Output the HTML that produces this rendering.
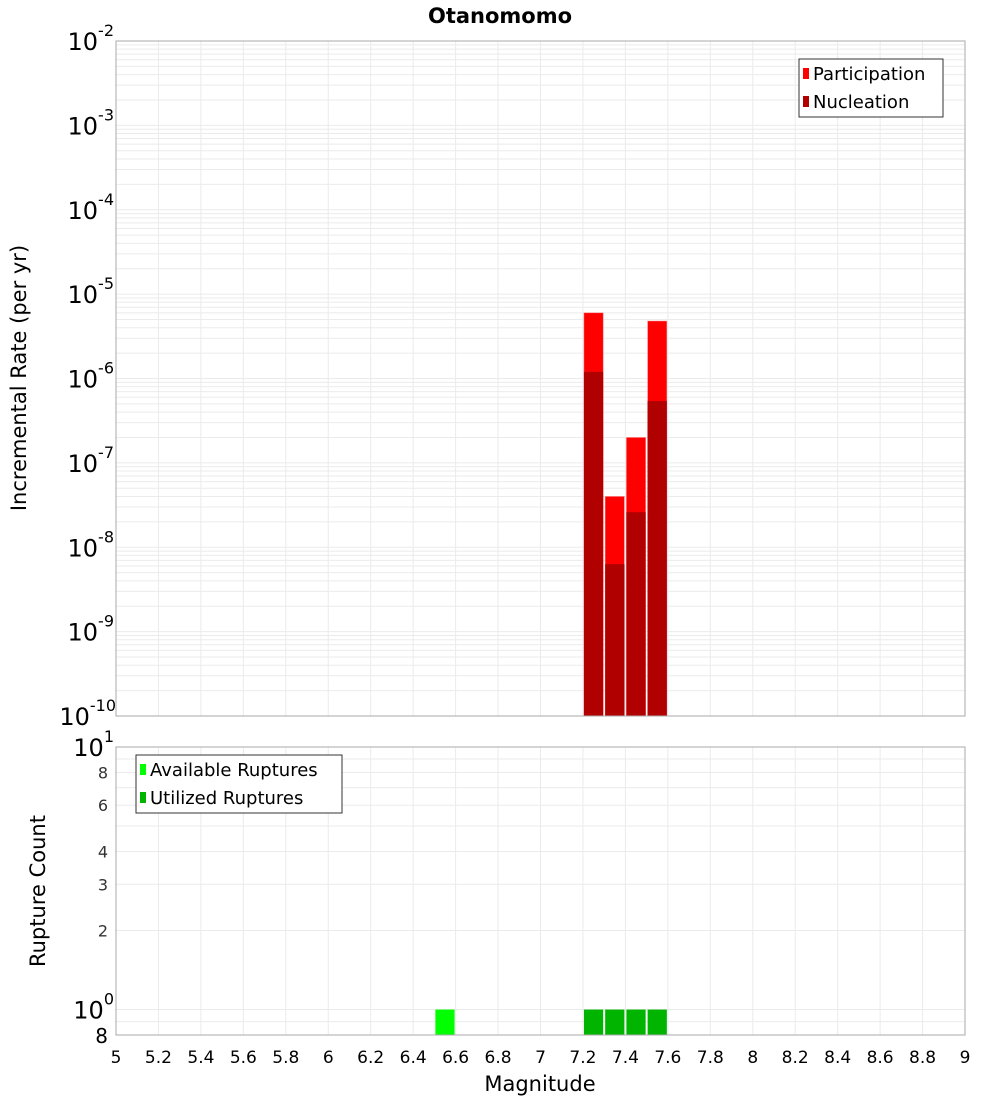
<!DOCTYPE html>
<html><head><meta charset="utf-8"><style>
body{margin:0;background:#fff;}
svg{font-family:"DejaVu Sans","Liberation Sans",sans-serif;}
</style></head><body>
<svg id="c" width="1000" height="1100" xmlns="http://www.w3.org/2000/svg"></svg>
<script>
const magBins = [7.25, 7.35, 7.45, 7.55];
const participationRates = [6.0e-6, 4.0e-8, 2.0e-7, 4.8e-6];
const nucleationRates = [1.2e-6, 6.3e-9, 2.6e-8, 5.4e-7];
const availableMags = [6.55];
const availableCounts = [1];
const utilizedMags = [7.25, 7.35, 7.45, 7.55];
const utilizedCounts = [1, 1, 1, 1];
const xTicks = [5,5.2,5.4,5.6,5.8,6,6.2,6.4,6.6,6.8,7,7.2,7.4,7.6,7.8,8,8.2,8.4,8.6,8.8,9];
const topExps = [-2,-3,-4,-5,-6,-7,-8,-9,-10];
const bottomTicks = [8,6,4,3,2];

const NS="http://www.w3.org/2000/svg";
const svg=document.getElementById('c');
function mk(tag,attrs,parent){const e=document.createElementNS(NS,tag);for(const k in attrs)e.setAttribute(k,attrs[k]);(parent||svg).appendChild(e);return e;}
const X0=116,X1=965;
const x=m=>X0+(m-5)/4*(X1-X0);
const T0=41,T1=716;
const yTop=v=>T0+(-2-Math.log10(v))/8*(T1-T0);
const B0=747,B1=1035;
const yBot=v=>B0+(1-Math.log10(v))/(1-Math.log10(0.8))*(B1-B0);
const bw=x(5.1)-x(5);

const g=mk('g',{});


for(let d=-10;d<-2;d++){for(let k=1;k<10;k++){const yy=yTop(k*Math.pow(10,d));mk('line',{x1:X0,x2:X1,y1:yy,y2:yy,stroke:'#ebebeb','stroke-width':1},g);}}
for(let k=1;k<=10;k++){const yy=yBot(k);mk('line',{x1:X0,x2:X1,y1:yy,y2:yy,stroke:'#ebebeb','stroke-width':1},g);}
mk('line',{x1:X0,x2:X1,y1:yBot(0.9),y2:yBot(0.9),stroke:'#ebebeb'},g);
xTicks.forEach(t=>{const xx=x(t);mk('line',{x1:xx,x2:xx,y1:T0,y2:T1,stroke:'#ebebeb'},g);mk('line',{x1:xx,x2:xx,y1:B0,y2:B1,stroke:'#ebebeb'},g);});

magBins.forEach((m,i)=>{
 const r=mk('rect',{x:x(m-0.05)+1,y:yTop(participationRates[i]),width:bw-2,height:T1-yTop(participationRates[i]),fill:'#ff0000',stroke:'#ff8080','stroke-width':0.5});
 
 
 const n=mk('rect',{x:x(m-0.05)+1,y:yTop(nucleationRates[i]),width:bw-2,height:T1-yTop(nucleationRates[i]),fill:'#b00000'});
 
 
});
availableMags.forEach((m,i)=>{
 const r=mk('rect',{x:x(m-0.05)+1,y:yBot(availableCounts[i]),width:bw-2,height:B1-yBot(availableCounts[i]),fill:'#00ff00'});
 
 
});
utilizedMags.forEach((m,i)=>{
 const r=mk('rect',{x:x(m-0.05)+1,y:yBot(utilizedCounts[i]),width:bw-2,height:B1-yBot(utilizedCounts[i]),fill:'#00b400'});
 
 
});

const f1=mk('rect',{x:X0,y:T0,width:X1-X0,height:T1-T0,fill:'none',stroke:'#aaa'});


const f2=mk('rect',{x:X0,y:B0,width:X1-X0,height:B1-B0,fill:'none',stroke:'#aaa'});



topExps.forEach(e=>{
 const t=mk('text',{x:e===-10?116:114,y:yTop(Math.pow(10,e))+9,'font-size':24,'text-anchor':'end',fill:'#000'});
 
 
 t.innerHTML='10<tspan font-size="16" dy="-14">'+e+'</tspan>';
});
[[10,'1'],[1,'0']].forEach(([v,e])=>{
 const t=mk('text',{x:114,y:yBot(v)+9,'font-size':24,'text-anchor':'end',fill:'#000'});
 
 
 t.innerHTML='10<tspan font-size="16" dy="-14">'+e+'</tspan>';
});
bottomTicks.forEach(v=>{
 const t=mk('text',{x:108,y:yBot(v)+6,'font-size':16,'text-anchor':'end',fill:'#333'});
 
 
 t.textContent=v;
});
const t8=mk('text',{x:108,y:yBot(0.8)+8,'font-size':20,'text-anchor':'end'});


t8.textContent='8';
xTicks.forEach(t=>{
 const e=mk('text',{x:x(t),y:1063,'font-size':17,'text-anchor':'middle'});
 
 
 e.textContent=String(t);
});

const ti=mk('text',{x:500,y:23,'font-size':21,'font-weight':'bold','text-anchor':'middle'});


ti.textContent='Otanomomo';
const xt=mk('text',{x:540,y:1091,'font-size':21,'text-anchor':'middle'});


xt.textContent='Magnitude';
const yt1=mk('text',{x:0,y:0,'font-size':21,'text-anchor':'middle',transform:'translate(26,378) rotate(-90)'});


yt1.textContent='Incremental Rate (per yr)';
const yt2=mk('text',{x:0,y:0,'font-size':21,'text-anchor':'middle',transform:'translate(45,891) rotate(-90)'});


yt2.textContent='Rupture Count';

function legend(name,bx,by,w,items){
 const lg=mk('g',{});
 
 
 mk('rect',{x:bx,y:by,width:w,height:58,fill:'#fff',stroke:'#333'},lg);
 items.forEach(([c,l],i)=>{
  const yy=by+14+i*28;
  mk('rect',{x:bx+4,y:yy-5,width:6,height:11,fill:c},lg);
  const tx=mk('text',{x:bx+14,y:yy+7,'font-size':18},lg);
  
  
  tx.textContent=l;
 });
}
legend('top-legend',799,59,144,[['#ff0000','Participation'],['#b00000','Nucleation']]);
legend('bottom-legend',136,755,206,[['#00ff00','Available Ruptures'],['#00b400','Utilized Ruptures']]);
</script>
</body></html>
